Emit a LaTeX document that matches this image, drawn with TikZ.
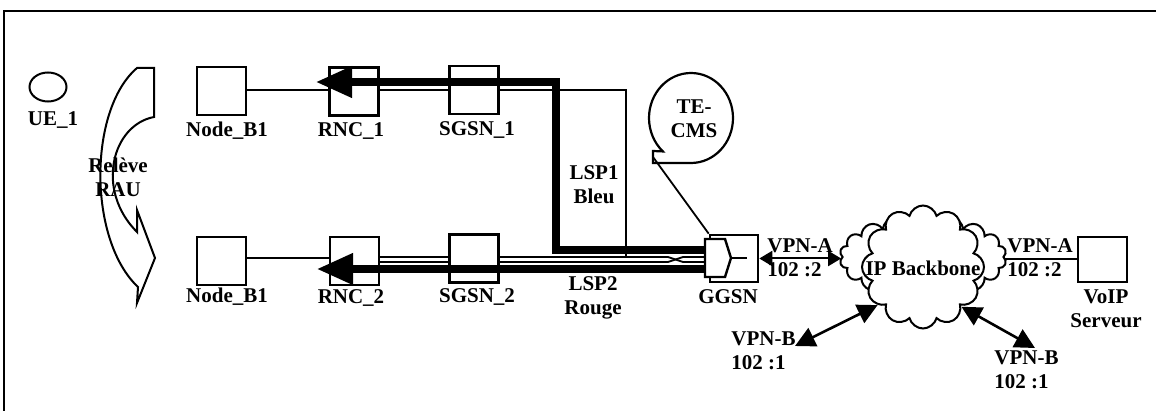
\documentclass[tikz,border=0pt]{standalone}
\usepackage{fontspec}
\setmainfont{Liberation Serif}
\usetikzlibrary{arrows.meta,shapes.symbols}
\newcommand{\lblfont}{\fontsize{10.5}{12}\selectfont\bfseries}
\tikzset{
  box/.style={draw, line width=1.3pt, fill=white, inner sep=0pt, minimum width=24.5pt, minimum height=24pt},
  lbl/.style={font=\lblfont, inner sep=0pt, align=center},
  lbll/.style={font=\lblfont, inner sep=0pt, align=left, anchor=west},
  thinln/.style={line width=0.9pt},
  lsp/.style={line width=3.6pt, -{Triangle[length=18pt,width=15pt]}},
  vpna/.style={line width=1pt, {Triangle[length=6.5pt,width=7.5pt]}-{Triangle[length=6.5pt,width=7.5pt]}},
  vpnb/.style={line width=1.3pt, {Triangle[length=10pt,width=10pt]}-{Triangle[length=10pt,width=10pt]}},
  cloudst/.style={draw, cloud, cloud ignores aspect, line width=1pt, fill=white, inner sep=0pt}
}
\begin{document}
\begin{tikzpicture}[x=0.5pt,y=-0.5pt]
\useasboundingbox (0,0) rectangle (1156,411);
% frame
\draw[line width=1.2pt] (4,411) -- (4,11) -- (1156,11);
% UE
\coordinate (ue) at (48,87);
\draw[line width=1pt] (66.5,87) arc[start angle=0, end angle=360, x radius=18.5, y radius=14.5] -- cycle;
\node[lbl] (uel) at (53,120) {UE\_1};
% curved arrow
\draw[line width=1pt] (137,68) -- (154,68) -- (154,117) .. controls (112,125) and (95,190) .. (137,232)
  -- (137,210) -- (155,258) -- (137,303) -- (138,287) .. controls (88,240) and (88,110) .. (137,68) -- cycle;
\node[lbl] (rel) at (118,177) {Relève\\RAU};
% coordinates
\coordinate (c1) at (626,90);
\coordinate (c2) at (626,257);
\coordinate (xa) at (668,257);
\coordinate (xb) at (668,262);
\coordinate (xc) at (683,257);
\coordinate (xd) at (683,262);
\coordinate (gin) at (705,258);
\coordinate (g1) at (705,250);
\coordinate (g2) at (705,269);
\coordinate (k1) at (556,250);
\coordinate (k2) at (556,82);
\coordinate (t1) at (316,82);
\coordinate (t2) at (317,269);
% boxes
\node[box] (nb1) at (221.5,91) {};
\node[box] (rnc1) at (354,91.5) {};
\node[box] (sgsn1) at (474,90) {};
\node[box] (nb2) at (221.5,261) {};
\node[box] (rnc2) at (354.5,261) {};
\node[box] (sgsn2) at (474,258.5) {};
\node[box, minimum width=24pt, minimum height=23.5pt] (ggsn) at (734,258.5) {};
\node[box, minimum width=24.5pt, minimum height=22.5pt] (voip) at (1102.5,259.5) {};
% thin lines
\draw[thinln] (nb1.east |- c1) -- (rnc1.west |- c1);
\draw[thinln] (rnc1.east |- c1) -- (sgsn1.west |- c1);
\draw[thinln] (sgsn1.east |- c1) -- (c1) -- (c2);
\draw[thinln] (nb2.east |- gin) -- (rnc2.west |- gin);
\draw[thinln] (rnc2.east |- xa) -- (sgsn2.west |- xa);
\draw[thinln] (rnc2.east |- xb) -- (sgsn2.west |- xb);
\draw[thinln] (sgsn2.east |- xa) -- (xa) -- (xd) -- (gin |- xd);
\draw[thinln] (sgsn2.east |- xb) -- (xb) -- (xc) -- (gin |- xc);
% LSPs
\draw[lsp] (g1) -- (k1) -- (k2) -- (t1);
\draw[lsp] (g2) -- (t2);
% GGSN inner shape
\draw[line width=1.2pt, fill=white] (705,239) -- (725,239) -- (731,258) -- (725,277) -- (705,277) -- cycle;
\draw[line width=1.2pt] (731,258) -- (747,258);
% TE-CMS bubble
\draw[line width=1.1pt, fill=white] (653,163) -- (691,163) arc[start angle=90, end angle=-228, x radius=42, y radius=45] -- (653,151) -- cycle;
\node[lbl] (tecms) at (694,119) {TE-\\CMS};
\coordinate (tail) at (653,157);
\draw[thinln] (tail) -- (ggsn.north west);
% clouds
\node[cloudst, cloud puffs=18, minimum width=83.5pt, minimum height=42.5pt] (cloudb) at (923,257) {};
\node[cloudst, cloud puffs=12, minimum width=61pt, minimum height=61.5pt] (cloudf) at (923,267) {};
% VPN connectors
\draw[vpna] (ggsn.east) -- (ggsn.east -| cloudb.west);
\draw[line width=1pt] (voip.west -| cloudb.east) -- (voip.west);
\draw[vpnb] (795,346) -- (cloudf.220);
\draw[vpnb] (1035,348) -- (cloudf.-46);
% labels
\node[lbl] at (923,268) {IP Backbone};
\node[lbl] at (227,131) {Node\_B1};
\node[lbl] at (351,131) {RNC\_1};
\node[lbl] at (477,130) {SGSN\_1};
\node[lbl] at (227,297) {Node\_B1};
\node[lbl] at (351,298) {RNC\_2};
\node[lbl] at (477,297) {SGSN\_2};
\node[lbl] at (728,297) {GGSN};
\node[lbl] at (1106,308.5) {VoIP\\Serveur};
\node[lbl] at (594,185) {LSP1\\Bleu};
\node[lbl] at (593,297.5) {LSP2\\Rouge};
\node[lbll] at (767,257.5) {VPN-A\\102 :2};
\node[lbll] at (1007,257.5) {VPN-A\\102 :2};
\node[lbll] at (731,350.5) {VPN-B\\102 :1};
\node[lbll] at (994,369.5) {VPN-B\\102 :1};
\end{tikzpicture}
\end{document}
